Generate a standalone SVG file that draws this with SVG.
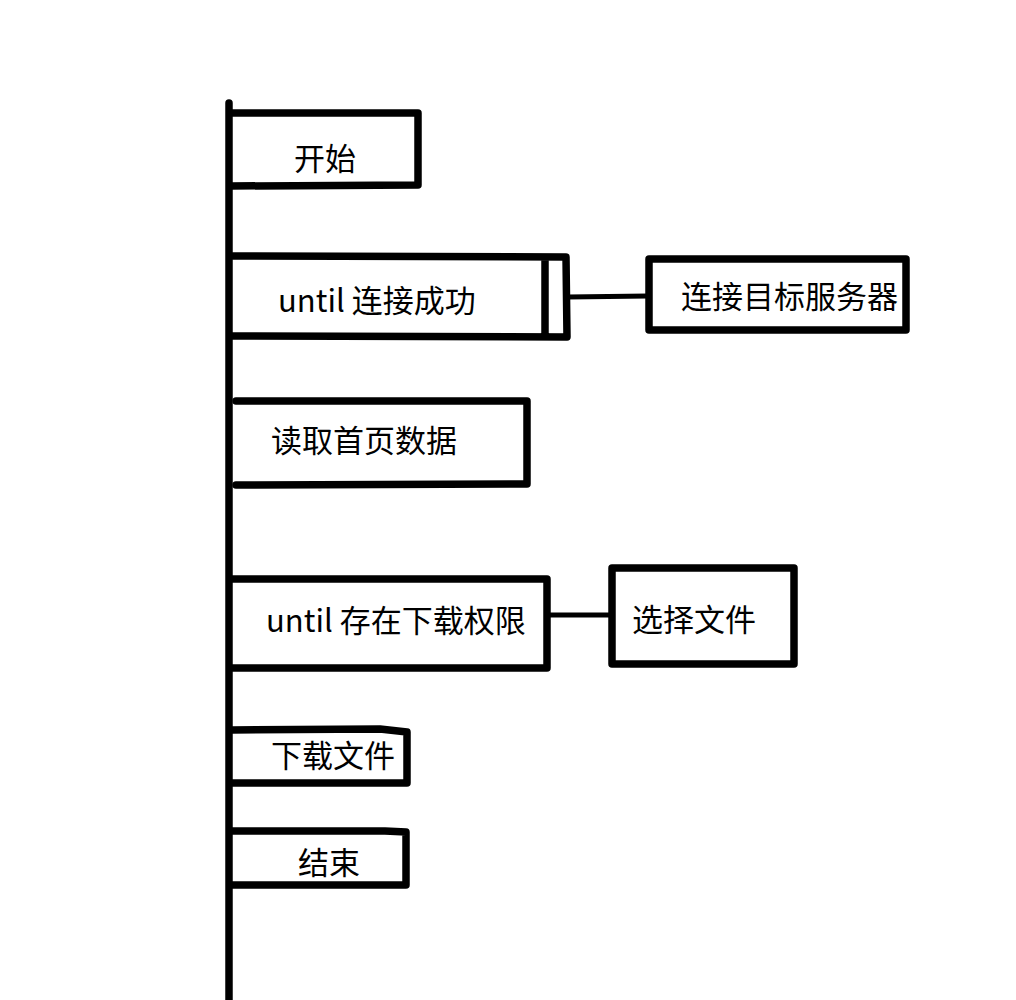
<svg xmlns="http://www.w3.org/2000/svg" width="1016" height="1000" viewBox="0 0 1016 1000">
<style>
.s{fill:none;stroke:#000;stroke-width:7.5;stroke-linecap:round;stroke-linejoin:round}
.t{font-family:"Noto Sans CJK SC","Noto Sans",sans-serif;font-size:31px;fill:#000;dominant-baseline:central}
</style>
<rect width="1016" height="1000" fill="#fff"/>
<g id="timeline"><path class="s" d="M229 103 L229 1000"/></g>
<g id="n1"><path class="s" d="M231 113 L418 113 L418 185 L231 186"/><text class="t" x="294" y="156">开始</text></g>
<g id="n2"><path class="s" d="M233 256 L566 257 L567 337 L231 336 M545 258 L545 336"/><text class="t" x="278" y="298">until 连接成功</text></g>
<g id="n3"><path class="s" d="M649 259 L906 259 L906 330 L649 330 Z"/><text class="t" x="681" y="294">连接目标服务器</text></g>
<g id="n4"><path class="s" d="M236 401 L527 401 L527 484 L236 485"/><text class="t" x="271" y="438">读取首页数据</text></g>
<g id="n5"><path class="s" d="M231 579 L547 579 L547 668 L231 668"/><text class="t" x="266" y="618">until 存在下载权限</text></g>
<g id="n6"><path class="s" d="M612 568 L794 568 L794 664 L612 664 Z"/><text class="t" x="632" y="617">选择文件</text></g>
<g id="n7"><path class="s" d="M232 730 L380 729 L407 732 L407 783 L232 783"/><text class="t" x="271" y="753">下载文件</text></g>
<g id="n8"><path class="s" d="M232 831 L385 831 L406 832 L406 885 L232 885"/><text class="t" x="298" y="860">结束</text></g>
<g id="connectors">
<path class="s" d="M568 297 L648 296" style="stroke-width:5"/>
<path class="s" d="M548 615 L611 615" style="stroke-width:5"/>
</g>
</svg>
